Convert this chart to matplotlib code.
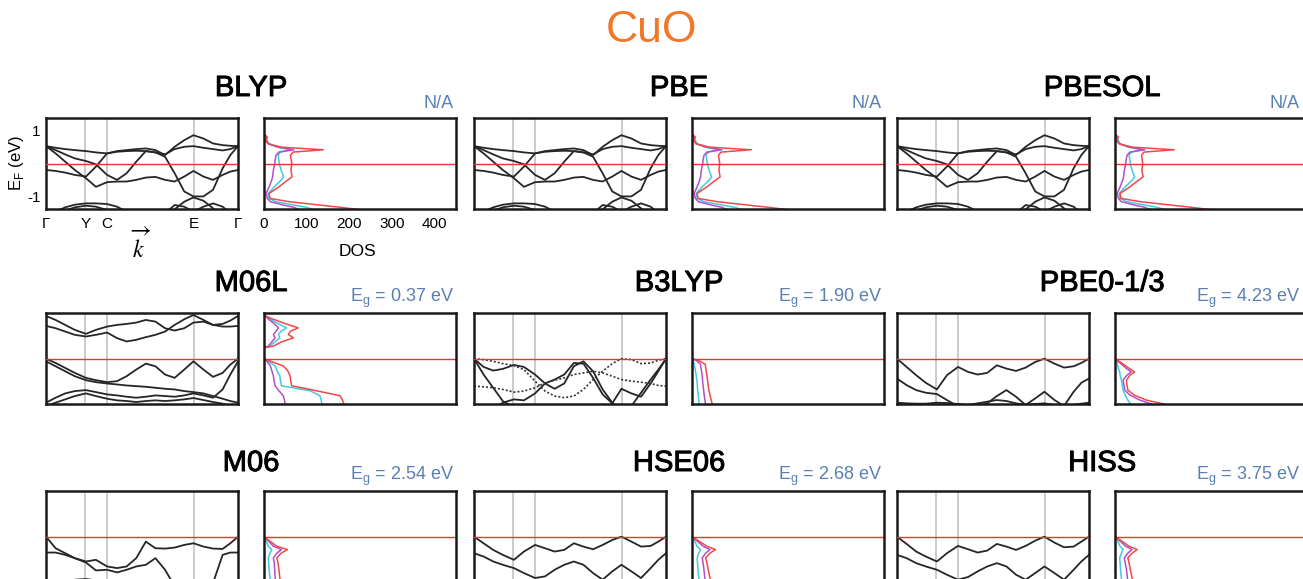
import numpy as np
import matplotlib
matplotlib.use('Agg')
import matplotlib.pyplot as plt
import matplotlib.patheffects as pe

plt.rcParams['font.family'] = ['Liberation Sans', 'DejaVu Sans']

W, H = 1303, 579
ORANGE = '#F07828'
BLUE = '#5A7FB5'
BAND = '#262626'
FERMI = '#F0302C'
C_RED, C_CYAN, C_MAG = '#F04848', '#45C8E0', '#B050C8'

# k-path: common grid and high-symmetry points
K_GRID = [0, .05, .10, .15, .208, .26, .318, .37, .42, .47, .52, .57, .62, .67, .72, .768, .82, .87, .92, .96, 1.0]
K_SYM = [0, .205, .318, .77, 1.0]
K_LABELS = ['Γ', 'Y', 'C', 'E', 'Γ']

# ---- band energies (eV, relative to E_F) ----
blyp_bands = [
    [.53, .48, .44, .41, .38, .34, .31, .38, .41, .44, .46, .41, .26, .51, .71, .86, .76, .61, .56, .54, .53],
    [.53, .41, .28, .16, .08, -.02, -.34, -.49, -.29, .06, .38, .34, .28, .44, .51, .53, .48, .44, .40, .44, .53],
    [.53, .31, .06, -.19, -.44, -.70, -.56, -.54, -.54, -.49, -.42, -.40, -.49, -.54, -.39, -.22, -.39, -.49, -.34, -.24, -.19],
    [-.19, -.22, -.27, -.34, -.39, -.09, .31, .36, .38, .39, .38, .34, .21, -.29, -.84, -.99, -.99, -.79, -.14, .26, .53],
    [-1.6, -1.45, -1.32, -1.24, -1.2, -1.2, -1.22, -1.3, -1.45, -1.6, -1.7, -1.7, -1.7, -1.7, -1.7, -1.7, -1.7, -1.7, -1.7, -1.7, -1.6],
    [-1.7, -1.7, -1.7, -1.7, -1.7, -1.7, -1.7, -1.7, -1.7, -1.7, -1.7, -1.7, -1.6, -1.38, -1.15, -1.02, -1.12, -1.35, -1.6, -1.7, -1.7],
    [-1.7, -1.6, -1.42, -1.32, -1.27, -1.3, -1.4, -1.6, -1.7, -1.7, -1.7, -1.7, -1.5, -1.25, -1.3, -1.45, -1.3, -1.2, -1.3, -1.5, -1.7],
]
m06l_bands = [
    [1.29, 1.17, 1.02, .87, .75, .87, .97, 1.02, 1.05, 1.09, 1.17, 1.12, .92, .85, .92, 1.09, 1.12, 1.02, 1.05, 1.15, 1.29],
    [.99, .92, .82, .72, .67, .72, .79, .62, .52, .57, .65, .72, .82, 1.02, 1.19, 1.32, 1.17, 1.02, .97, .97, .99],
    [0, -.13, -.28, -.43, -.58, -.65, -.71, -.68, -.53, -.33, -.15, -.23, -.48, -.58, -.33, -.08, -.33, -.55, -.43, -.18, 0],
    [-.08, -.23, -.38, -.53, -.65, -.71, -.75, -.78, -.81, -.83, -.85, -.88, -.91, -.93, -.98, -1.01, -1.05, -1.13, -1.21, -1.28, -1.33],
    [-1.33, -1.18, -1.05, -.98, -.95, -1.01, -1.08, -1.11, -1.15, -1.18, -1.15, -1.11, -1.13, -1.15, -1.11, -1.05, -1.11, -1.18, -.93, -.48, -.08],
    [-1.43, -1.33, -1.23, -1.13, -1.05, -1.13, -1.21, -1.26, -1.28, -1.31, -1.28, -1.26, -1.28, -1.26, -1.23, -1.19, -1.25, -1.31, -1.36, -1.43, -1.43],
]
b3lyp_bands = [
    [0, -.25, -.36, -.31, -.19, -.25, -.48, -.75, -.91, -.75, -.23, -.08, -.38, -.93, -1.33, -1.6, -1.6, -1.6, -1.6, -1.6, -1.6],
    [0, -.48, -.88, -1.28, -1.48, -1.63, -1.73, -1.73, -1.73, -1.73, -1.73, -1.73, -1.73, -1.73, -1.73, -1.73, -1.43, -1.03, -.63, -.33, 0],
    [-1.73, -1.73, -1.53, -1.33, -1.23, -1.26, -1.05, -.75, -.63, -.48, -.13, -.15, -.58, -1.08, -1.35, -.91, -1.05, -1.15, -.75, -.38, 0],
]
b3lyp_dotted = [
    [0, -.03, -.08, -.15, -.21, -.33, -.68, -.98, -1.13, -1.18, -1.13, -.93, -.63, -.38, -.15, 0, -.03, -.15, -.13, -.05, 0],
    [-.83, -.85, -.88, -.93, -1.01, -.98, -.88, -.73, -.65, -.58, -.48, -.43, -.38, -.43, -.53, -.63, -.68, -.71, -.75, -.81, -.83],
]
pbe0_bands = [
    [0, -.25, -.5, -.73, -.93, -.5, -.25, -.4, -.48, -.43, -.2, -.3, -.37, -.27, -.1, 0, -.15, -.27, -.23, -.13, 0],
    [-.6, -.8, -.95, -1.03, -1.07, -1.25, -1.45, -1.5, -1.45, -1.35, -1.13, -.95, -1.15, -1.4, -1.2, -1.0, -1.25, -1.43, -1.0, -.73, -.6],
    [-1.33, -1.35, -1.36, -1.36, -1.33, -1.34, -1.37, -1.4, -1.35, -1.3, -1.25, -1.28, -1.35, -1.4, -1.37, -1.35, -1.4, -1.42, -1.4, -1.36, -1.33],
]
m06_bands = [
    [0, -.35, -.5, -.65, -.75, -.7, -.9, -.95, -.9, -.65, -.15, -.35, -.36, -.33, -.25, -.2, -.3, -.36, -.37, -.2, 0],
    [-.48, -.48, -.55, -.65, -.78, -1.02, -1.0, -1.08, -1.0, -.9, -.85, -.65, -1.0, -1.5, -1.8, -1.8, -1.8, -1.4, -.55, -.48, -.48],
    [-1.5, -1.45, -1.38, -1.3, -1.28, -1.32, -1.4, -1.45, -1.45, -1.4, -1.35, -1.35, -1.4, -1.45, -1.45, -1.45, -1.45, -1.45, -1.45, -1.45, -1.5],
]
hse06_bands = [
    [0, -.2, -.4, -.55, -.7, -.45, -.25, -.35, -.45, -.4, -.2, -.3, -.38, -.25, -.1, 0, -.15, -.3, -.28, -.15, 0],
    [-.5, -.6, -.75, -.85, -.95, -1.1, -1.25, -1.2, -1.0, -.85, -.75, -.85, -1.1, -1.3, -1.05, -.85, -1.05, -1.25, -.95, -.7, -.5],
]
hiss_bands = [
    [0, -.22, -.45, -.6, -.75, -.5, -.28, -.38, -.48, -.42, -.22, -.3, -.4, -.28, -.12, 0, -.18, -.32, -.3, -.15, 0],
    [-.55, -.65, -.8, -.9, -1.0, -1.15, -1.3, -1.22, -1.05, -.9, -.8, -.9, -1.15, -1.3, -1.1, -.9, -1.1, -1.3, -1.0, -.75, -.55],
]

# ---- DOS (energy grid, then red / cyan / magenta curves) ----
metal_E = [.9, .8, .7, .6, .5, .42, .35, .25, .1, 0, -.2, -.4, -.5, -.7, -.9, -1.05, -1.15, -1.25, -1.32, -1.4]
metal_red = [0, 8, 4, 10, 40, 139, 68, 62, 64, 65, 63, 66, 55, 35, 12, 14, 60, 130, 180, 230]
metal_cyan = [0, 4, 8, 12, 30, 62, 38, 33, 35, 36, 40, 46, 40, 24, 10, 12, 28, 70, 100, 120]
metal_mag = [0, 6, 4, 10, 35, 70, 35, 28, 26, 25, 22, 20, 18, 12, 5, 8, 15, 45, 70, 85]

m06l_E = [1.38, 1.3, 1.2, 1.08, .93, .83, .73, .63, .5, .38, .33, np.nan,
          0, -.1, -.22, -.35, -.52, -.7, -.82, -.97, -1.12, -1.25, -1.4]
m06l_red = [0, 2, 20, 45, 80, 62, 57, 69, 40, 22, 0, np.nan, 0, 20, 45, 55, 61, 63, 65, 123, 178, 184, 188]
m06l_cyan = [0, 2, 14, 30, 53, 40, 34, 37, 25, 14, 0, np.nan, 0, 12, 26, 30, 37, 39, 41, 108, 131, 134, 136]
m06l_mag = [0, 2, 10, 22, 34, 28, 22, 26, 18, 10, 0, np.nan, 0, 8, 15, 18, 22, 24, 26, 35, 45, 48, 50]

b3lyp_E = [0, -.05, -.17, -.35, -.52, -.7, -.92, -1.15, -1.4]
b3lyp_red = [0, 15, 31, 33, 35, 37, 39, 43, 48]
b3lyp_cyan = [0, 3, 5, 8, 10, 12, 13, 15, 17]
b3lyp_mag = [0, 10, 20, 22, 24, 25, 27, 29, 32]

pbe0_E = [0, -.1, -.3, -.4, -.5, -.65, -.8, -.95, -1.1, -1.25, -1.4]
pbe0_red = [0, 12, 34, 46, 35, 27, 28, 30, 45, 73, 125]
pbe0_cyan = [0, 4, 8, 11, 12, 15, 17, 19, 24, 30, 38]
pbe0_mag = [0, 9, 27, 38, 28, 19, 21, 23, 35, 58, 92]

gap_E = [0, -.1, -.29, -.39, -.5, -.64, -.8, -1.0, -1.24, -1.4]
m06_red = [0, 10, 30, 55, 40, 30, 33, 35, 37, 40]
m06_cyan = [0, 4, 10, 18, 14, 10, 11, 12, 14, 15]
m06_mag = [0, 8, 22, 41, 30, 22, 24, 25, 26, 28]
hse06_red = [0, 12, 35, 55, 42, 32, 35, 38, 42, 46]
hse06_cyan = [0, 5, 12, 20, 16, 12, 13, 14, 16, 17]
hse06_mag = [0, 9, 26, 42, 32, 24, 26, 28, 30, 33]
hiss_red = [0, 12, 33, 52, 40, 30, 33, 36, 40, 44]
hiss_cyan = [0, 5, 12, 19, 15, 11, 12, 13, 15, 16]
hiss_mag = [0, 9, 25, 40, 30, 22, 24, 27, 29, 31]

functionals = ['BLYP', 'PBE', 'PBESOL', 'M06L', 'B3LYP', 'PBE0-1/3', 'M06', 'HSE06', 'HISS']
gaps = [None, None, None, 0.37, 1.90, 4.23, 2.54, 2.68, 3.75]

panels = [
    (blyp_bands, [], (metal_E, metal_red, metal_cyan, metal_mag)),
    (blyp_bands, [], (metal_E, metal_red, metal_cyan, metal_mag)),
    (blyp_bands, [], (metal_E, metal_red, metal_cyan, metal_mag)),
    (m06l_bands, [], (m06l_E, m06l_red, m06l_cyan, m06l_mag)),
    (b3lyp_bands, b3lyp_dotted, (b3lyp_E, b3lyp_red, b3lyp_cyan, b3lyp_mag)),
    (pbe0_bands, [], (pbe0_E, pbe0_red, pbe0_cyan, pbe0_mag)),
    (m06_bands, [], (gap_E, m06_red, m06_cyan, m06_mag)),
    (hse06_bands, [], (gap_E, hse06_red, hse06_cyan, hse06_mag)),
    (hiss_bands, [], (gap_E, hiss_red, hiss_cyan, hiss_mag)),
]

YLIM = (-1.37, 1.38)
COL_BAND = [46, 474, 897]
COL_DOS = [264, 692, 1115]
ROW_TOP = [118, 313, 491]
TITLE_Y = [88, 283, 463]
PW, PH = 192, 91


def px_axes(fig, x, y, w, h):
    return fig.add_axes([x / W, 1 - (y + h) / H, w / W, h / H])


def style(ax):
    ax.set_ylim(*YLIM)
    ax.tick_params(length=0, labelsize=11, pad=4)
    ax.set_xticks([]); ax.set_yticks([])
    for sp in ax.spines.values():
        sp.set_linewidth(1.8); sp.set_color('#1a1a1a')


fig = plt.figure(figsize=(W / 100, H / 100), dpi=100)
fig.text(651 / W, 1 - 31 / H, 'CuO', color=ORANGE, fontsize=32, ha='center', va='center')

heavy = [pe.withStroke(linewidth=0.7, foreground='black')]

for i, (name, (bands, dotted, dos)) in enumerate(zip(functionals, panels)):
    r, c = divmod(i, 3)
    axb = px_axes(fig, COL_BAND[c], ROW_TOP[r], PW, PH)
    for k in K_SYM[1:-1]:
        axb.axvline(k, color='#BDBDBD', lw=1.1, zorder=1)
    for b in bands:
        axb.plot(K_GRID, b, color=BAND, lw=1.3, zorder=2, solid_joinstyle='round')
    for b in dotted:
        axb.plot(K_GRID, b, color='#333333', lw=1.2, ls=(0, (1.2, 1.2)), zorder=2)
    axb.axhline(0, color=FERMI, lw=1.0, zorder=3)
    axb.set_xlim(0, 1)
    style(axb)

    axd = px_axes(fig, COL_DOS[c], ROW_TOP[r], PW, PH)
    E, red, cyan, mag = dos
    axd.plot(cyan, E, color=C_CYAN, lw=1.1)
    axd.plot(mag, E, color=C_MAG, lw=1.1)
    axd.plot(red, E, color=C_RED, lw=1.1)
    axd.axhline(0, color=FERMI, lw=1.0)
    axd.set_xlim(0, 450)
    style(axd)

    cx = (COL_BAND[c] + COL_DOS[c] + PW) / 2
    fig.text(cx / W, 1 - TITLE_Y[r] / H, name, fontsize=21, ha='center', va='center',
             path_effects=heavy)
    right = min(COL_DOS[c] + PW - 2, 1300)
    lab = 'N/A' if gaps[i] is None else r'E$_\mathregular{g}$ = %.2f eV' % gaps[i]
    fig.text(right / W, 1 - (ROW_TOP[r] - 15) / H, lab, color=BLUE,
             fontsize=13, ha='right', va='center')

    if i == 0:
        axb.set_yticks([1, -1]); axb.set_yticklabels(['1', '-1'])
        axb.set_xticks(K_SYM); axb.set_xticklabels(K_LABELS)
        axb.tick_params(axis='x', pad=6)
        axd.set_xticks([0, 100, 200, 300, 400])
        axd.tick_params(axis='x', pad=6)
        fig.text(16 / W, 1 - 163 / H, r'E$_\mathregular{F}$ (eV)', rotation=90,
                 fontsize=12, ha='center', va='center')
        fig.text(140 / W, 1 - 246 / H, r'$\overrightarrow{k}$', math_fontfamily='stix',
                 fontsize=17, ha='center', va='center')
        fig.text(357 / W, 1 - 252 / H, 'DOS', fontsize=12.5, ha='center', va='center')

fig.savefig('out.png', dpi=100)
